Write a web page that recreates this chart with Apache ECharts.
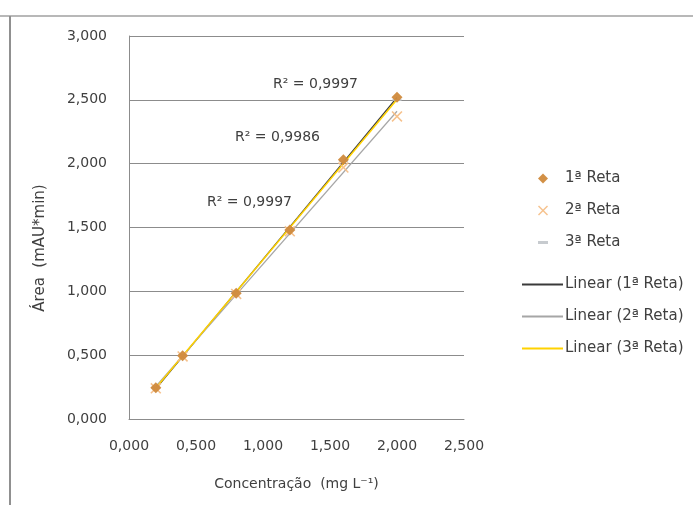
<!DOCTYPE html>
<html>
<head>
<meta charset="utf-8">
<script src="https://cdn.jsdelivr.net/npm/echarts@6/dist/echarts.min.js"></script>
<style>
html,body{margin:0;padding:0;background:#fff;}
#chart{width:693px;height:505px;}
</style>
</head>
<body>
<div id="chart"></div>
<script>
const concentrations = [0.2, 0.4, 0.8, 1.2, 1.6, 2.0];
const reta1 = [0.245, 0.495, 0.985, 1.48, 2.03, 2.52];
const reta2 = [0.24, 0.49, 0.98, 1.47, 1.97, 2.37];
const reta3 = [0.245, 0.50, 0.99, 1.48, 2.02, 2.50];
const seriesNames = ['1ª Reta', '2ª Reta', '3ª Reta'];
const trendNames = ['Linear (1ª Reta)', 'Linear (2ª Reta)', 'Linear (3ª Reta)'];
const r2Labels = ['R² = 0,9997', 'R² = 0,9986', 'R² = 0,9997'];
const xTicks = [0, 0.5, 1.0, 1.5, 2.0, 2.5];
const yTicks = [0, 0.5, 1.0, 1.5, 2.0, 2.5, 3.0];
const xTitle = 'Concentração  (mg L⁻¹)';
const yTitle = 'Área  (mAU*min)';

function fmt(v){ return v.toFixed(3).replace('.', ','); }
function fit(xs, ys){
  const n = xs.length;
  const mx = xs.reduce((a,b)=>a+b,0)/n, my = ys.reduce((a,b)=>a+b,0)/n;
  let sxy=0, sxx=0;
  for(let i=0;i<n;i++){ sxy+=(xs[i]-mx)*(ys[i]-my); sxx+=(xs[i]-mx)*(xs[i]-mx); }
  const b = sxy/sxx, a = my - b*mx;
  const x0 = Math.min(...xs), x1 = Math.max(...xs);
  return [[x0, a+b*x0],[x1, a+b*x1]];
}
const pairs = ys => concentrations.map((x,i)=>[x, ys[i]]);
const allY = [reta1, reta2, reta3];

const font = 'DejaVu Sans, Verdana, sans-serif';
const txt = '#404040';
const chart = echarts.init(document.getElementById('chart'));
const markerColors = ['#D08A3C', '#F5BE86', '#C4C8CC'];
const trendColors = ['#3A3A3A', '#A6A6A6', '#FFD200'];
const xPath = 'path://M0,1 L1,0 L5,4 L9,0 L10,1 L6,5 L10,9 L9,10 L5,6 L1,10 L0,9 L4,5 Z';
const dashPath = 'path://M0,0 H10 V3 H0 Z';

const series = [];
trendNames.forEach((name,i)=>{
  series.push({
    name, type:'line', data: fit(concentrations, allY[i]), symbol:'none',
    lineStyle:{color:trendColors[i], width: i===2?1.5:1.2},
    itemStyle:{color:trendColors[i]}, z: 2, silent:true
  });
});
const symbols = ['diamond', xPath, dashPath];
const sizes = [11, 11, [9,2]];
seriesNames.forEach((name,i)=>{
  series.push({
    name, type:'scatter', data: pairs(allY[i]), symbol: symbols[i], symbolSize: sizes[i],
    itemStyle:{color: markerColors[i], opacity: 0.95}, z: 3 - i/10
  });
});

const legendText = {color:txt, fontSize:15, fontFamily:font};
const r2Font = '14px ' + font;
chart.setOption({
  animation:false,
  backgroundColor:'#fff',
  textStyle:{fontFamily:font},
  grid:{left:129, right:229, top:36, bottom:86},
  xAxis:{
    type:'value', min:xTicks[0], max:xTicks[xTicks.length-1], interval:0.5,
    name:xTitle, nameLocation:'middle', nameGap:58,
    nameTextStyle:{color:txt, fontSize:14, fontFamily:font},
    axisLine:{show:true, lineStyle:{color:'#8C8C8C', width:1}},
    axisTick:{show:false},
    axisLabel:{color:txt, fontSize:14, margin:20, formatter:fmt},
    splitLine:{show:false}
  },
  yAxis:{
    type:'value', min:yTicks[0], max:yTicks[yTicks.length-1], interval:0.5,
    axisLine:{show:true, lineStyle:{color:'#8C8C8C', width:1}},
    axisTick:{show:false},
    axisLabel:{color:txt, fontSize:14, margin:22, formatter:fmt},
    splitLine:{show:true, lineStyle:{color:'#8C8C8C', width:1}}
  },
  legend:[
    {
      orient:'vertical', left:533, top:166, itemWidth:10, itemHeight:10, itemGap:17,
      data: seriesNames.map((n,i)=>({name:n, icon: symbols[i]})),
      textStyle:Object.assign({padding:[0,0,0,12]}, legendText)
    },
    {
      orient:'vertical', left:517, top:272, itemWidth:41, itemHeight:2, itemGap:17,
      icon:'rect',
      data: trendNames,
      textStyle:Object.assign({padding:[0,0,0,-3]}, legendText)
    }
  ],
  graphic:[
    {type:'line', shape:{x1:0,y1:16,x2:693,y2:16}, style:{stroke:'#A0A0A0', lineWidth:1.5}, silent:true},
    {type:'line', shape:{x1:10,y1:16,x2:10,y2:505}, style:{stroke:'#909090', lineWidth:2}, silent:true},
    {type:'text', x:40, y:248, rotation:Math.PI/2, silent:true,
      style:{text:yTitle, fill:txt, font:'15px '+font, align:'center', verticalAlign:'middle'}},
    {type:'text', left:273, top:77, style:{text:r2Labels[0], fill:txt, font:r2Font}},
    {type:'text', left:235, top:130, style:{text:r2Labels[1], fill:txt, font:r2Font}},
    {type:'text', left:207, top:195, style:{text:r2Labels[2], fill:txt, font:r2Font}}
  ],
  series
});
</script>
</body>
</html>
